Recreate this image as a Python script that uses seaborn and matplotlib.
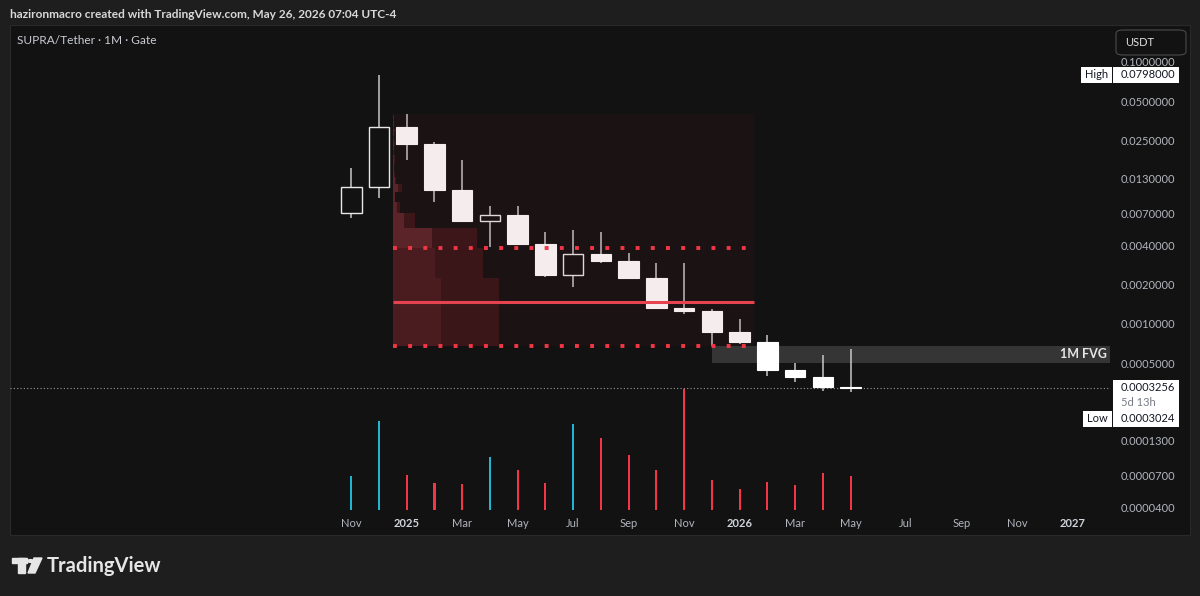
import numpy as np
import pandas as pd
import matplotlib
matplotlib.use('Agg')
import matplotlib.pyplot as plt
from matplotlib.patches import Rectangle, Polygon, Circle, FancyBboxPatch
from matplotlib.ticker import NullLocator
import seaborn as sns

# monthly candles SUPRA/USDT, Nov 2024 .. May 2026
months = ['2024-11', '2024-12', '2025-01', '2025-02', '2025-03', '2025-04', '2025-05',
          '2025-06', '2025-07', '2025-08', '2025-09', '2025-10', '2025-11', '2025-12',
          '2026-01', '2026-02', '2026-03', '2026-04', '2026-05']
opens = [0.0070, 0.0111, 0.0319, 0.0237, 0.0105, 0.0061, 0.0068, 0.0041, 0.00237, 0.0034,
         0.0030, 0.00224, 0.00133, 0.00126, 0.00087, 0.00073, 0.000446, 0.000394, 0.00033]
highs = [0.0155, 0.0798, 0.0400, 0.0245, 0.0179, 0.0079, 0.0079, 0.0050, 0.0052, 0.0050,
         0.0035, 0.0029, 0.0029, 0.00130, 0.0011, 0.00082, 0.000505, 0.00058, 0.00064]
lows = [0.0064, 0.0092, 0.0179, 0.0086, 0.0060, 0.0039, 0.0041, 0.0023, 0.0019, 0.0029,
        0.0022, 0.0013, 0.00120, 0.00068, 0.00070, 0.00040, 0.000363, 0.000306, 0.0003024]
closes = [0.0111, 0.0319, 0.0237, 0.0105, 0.0061, 0.0068, 0.0041, 0.00237, 0.0034, 0.0030,
          0.00224, 0.00133, 0.00126, 0.00087, 0.00073, 0.000446, 0.000394, 0.00033, 0.0003256]
volumes = [34, 89, 35, 27, 26, 53, 40, 27, 86, 72, 55, 40, 121, 30, 21, 28, 25, 37, 34]

# fixed range volume profile (Jan 2025 .. Jan 2026), 25 rows
prof_first, prof_last = 2, 14
prof_up = [48, 42, 39, 11, 4, 2, 5, 2, 1, 1, 1, 1, 0, 1, 1, 1, 0, 1, 1, 0, 1, 1, 0, 1, 0]
prof_down = [58, 48, 45, 11, 3, 0, 4, 1, 1, 0, 1, 1, 1, 0, 1, 0, 1, 0, 1, 1, 0, 0, 1, 0, 1]
poc_price = 0.00147
va_high, va_low = 0.00383, 0.00068

# 1M fair value gap
fvg_start = 13
fvg_low, fvg_high = 0.000504, 0.00068

price_ticks = [0.1, 0.05, 0.025, 0.013, 0.007, 0.004, 0.002, 0.001, 0.0005,
               0.00013, 0.00007, 0.00004]
month_ticks = [0, 2, 4, 6, 8, 10, 12, 14, 16, 18, 20, 22, 24, 26]
month_labels = ['Nov', '2025', 'Mar', 'May', 'Jul', 'Sep', 'Nov', '2026',
                'Mar', 'May', 'Jul', 'Sep', 'Nov', '2027']

bg_outer = '#1e1e1e'
panel = '#121212'
red = '#f23645'
cyan = '#22b5d2'

sns.set_theme(style='dark')
plt.rcParams['font.family'] = ['Lato', 'DejaVu Sans']

W, H = 1200, 596
fig = plt.figure(figsize=(12, 5.96), dpi=100, facecolor=bg_outer)


def fx(px):
    return px / W


def fy(py):
    return 1 - py / H


fig.add_artist(Rectangle((fx(10), fy(535)), 1180 / W, 510 / H, transform=fig.transFigure,
                         facecolor=panel, edgecolor='#2a2a2a', lw=0.8, zorder=0))

rect = [fx(10), fy(512), 1100 / W, 487 / H]
axv = fig.add_axes(rect)
ax = fig.add_axes(rect, sharex=axv)
for a in (ax, axv):
    a.patch.set_visible(False)
    for s in a.spines.values():
        s.set_visible(False)
    a.grid(False)

x = np.arange(len(months))
xlim = (-12.3, 27.35)

# volume overlay
vol_df = pd.DataFrame({'x': x, 'volume': volumes,
                       'dir': ['up' if c >= o else 'down' for o, c in zip(opens, closes)]})
sns.barplot(data=vol_df, x='x', y='volume', hue='dir', palette={'up': cyan, 'down': red},
            native_scale=True, orient='x', width=0.075, dodge=False, saturation=1,
            legend=False, linewidth=0, edgecolor='none', ax=axv)
axv.set_ylim(-2, 485)
axv.axis('off')

# candles
ax.set_yscale('log')
ax.vlines(x, lows, highs, color='#c8c8c8', lw=1.1, zorder=2)
o = np.array(opens)
c = np.array(closes)
up = c >= o
ax.bar(x[up], (c - o)[up], bottom=o[up], width=0.74, facecolor=panel,
       edgecolor='#e8e8e8', lw=1.0, zorder=2.2)
ax.bar(x[~up], (o - c)[~up], bottom=c[~up], width=0.74, facecolor='#ffffff',
       edgecolor='#ffffff', lw=0.8, zorder=2.2)

# volume profile box
p_lo = min(lows[prof_first:prof_last + 1])
p_hi = max(highs[prof_first:prof_last + 1])
bx0, bx1 = prof_first - 0.5, prof_last + 0.5
ax.add_patch(Rectangle((bx0, p_lo), bx1 - bx0, p_hi - p_lo, facecolor=(0.55, 0.1, 0.12, 0.08),
                       edgecolor='none', zorder=3))
edges = np.linspace(p_lo, p_hi, len(prof_up) + 1)
tot = np.array(prof_up) + np.array(prof_down)
scale = 0.295 * (bx1 - bx0) / tot.max()
up_col = np.where(edges[1:] <= va_high * 1.01, '#4a1c20', '#5a2428')
dn_col = np.where(edges[1:] <= va_high * 1.01, '#3b1619', '#3d161a')
ax.barh(edges[:-1], np.array(prof_up) * scale, height=np.diff(edges), left=bx0, align='edge',
        color=up_col, edgecolor='none', zorder=4)
ax.barh(edges[:-1], np.array(prof_down) * scale, height=np.diff(edges),
        left=bx0 + np.array(prof_up) * scale, align='edge', color=dn_col, edgecolor='none', zorder=4)
ax.hlines(poc_price, bx0, bx1, color='#e5434f', lw=2.2, zorder=5)
ax.hlines([va_high, va_low], bx0, bx1, color=red, lw=2.8, linestyles=[(0, (1, 2.9))],
          capstyle='butt', zorder=5)

# FVG zone
ax.add_patch(Rectangle((fvg_start, fvg_low), xlim[1] - fvg_start, fvg_high - fvg_low,
                       facecolor=(1, 1, 1, 0.15), edgecolor='none', zorder=1.5))
ax.text(xlim[1] - 0.12, np.sqrt(fvg_low * fvg_high), '1M FVG', ha='right', va='center',
        color='#e6e6e6', fontsize=9, fontweight='bold', zorder=6)

# last price line
ax.axhline(closes[-1], color='#9a9a9a', lw=0.8, ls=(0, (1, 2)), zorder=1.8)

ax.set_xlim(*xlim)
ax.set_ylim(3.67e-5, 0.1914)
ax.yaxis.tick_right()
ax.set_yticks(price_ticks)
ax.set_yticklabels([f'{t:.7f}' for t in price_ticks])
ax.yaxis.set_minor_locator(NullLocator())
ax.tick_params(axis='y', length=0, pad=8, labelsize=8, labelcolor='#b2b5be')
ax.set_xticks(month_ticks)
ax.set_xticklabels(month_labels)
ax.tick_params(axis='x', length=0, pad=4, labelsize=8, labelcolor='#b2b5be')
for lab in ax.get_xticklabels():
    if lab.get_text().isdigit():
        lab.set_fontweight('bold')
        lab.set_color('#d1d4dc')
ax.set_xlabel('')
ax.set_ylabel('')


def ypx(price):
    return H - ax.transData.transform((0, price))[1]


# price scale labels
def box(x0, y0, x1, y1, fc, ec='none', lw=0, z=10):
    fig.add_artist(Rectangle((fx(x0), fy(y1)), (x1 - x0) / W, (y1 - y0) / H,
                             transform=fig.transFigure, facecolor=fc, edgecolor=ec, lw=lw, zorder=z))


yh = ypx(max(highs))
box(1081, yh - 8, 1112, yh + 8, '#ffffff')
box(1113, yh - 8, 1179, yh + 8, '#ffffff')
fig.text(fx(1085), fy(yh), 'High', ha='left', va='center', fontsize=8, color='#131722', zorder=11)
fig.text(fx(1121), fy(yh), f'{max(highs):.7f}', ha='left', va='center', fontsize=8,
         color='#131722', zorder=11)

yc = ypx(closes[-1])
box(1113, yc - 8, 1179, yc + 39, '#ffffff')
box(1083, yc + 23, 1112, yc + 39, '#ffffff')
fig.text(fx(1121), fy(yc), f'{closes[-1]:.7f}', ha='left', va='center', fontsize=8,
         color='#131722', zorder=11)
fig.text(fx(1121), fy(yc + 15), '5d 13h', ha='left', va='center', fontsize=8,
         color='#787b86', zorder=11)
fig.text(fx(1121), fy(yc + 31), f'{min(lows):.7f}', ha='left', va='center', fontsize=8,
         color='#131722', zorder=11)
fig.text(fx(1087), fy(yc + 31), 'Low', ha='left', va='center', fontsize=8,
         color='#131722', zorder=11)

fig.add_artist(FancyBboxPatch((fx(1116), fy(55)), 70 / W, 25 / H, boxstyle='round,pad=0,rounding_size=0.006',
                              transform=fig.transFigure, facecolor=panel, edgecolor='#4a4a4a', lw=0.8, zorder=10))
fig.text(fx(1125), fy(43), 'USDT', ha='left', va='center', fontsize=8, color='#e0e0e0', zorder=11)

# header and title
fig.text(fx(10), fy(14), 'hazironmacro created with TradingView.com, May 26, 2026 07:04 UTC-4',
         ha='left', va='center', fontsize=8.6, fontweight='bold', color='#d9d9d9')
fig.text(fx(17), fy(41), 'SUPRA/Tether · 1M · Gate', ha='left', va='center', fontsize=8.6,
         color='#c8cbd1')

# TradingView logo
logo = '#e6e6e6'
fig.add_artist(Rectangle((fx(12), fy(563)), 15 / W, 5 / H, transform=fig.transFigure, color=logo))
fig.add_artist(Rectangle((fx(18), fy(573)), 7 / W, 15 / H, transform=fig.transFigure, color=logo))
fig.add_artist(Circle((fx(30.5), fy(561)), 2.8 / W, transform=fig.transFigure, color=logo))
fig.add_artist(Polygon([(fx(34), fy(558)), (fx(42), fy(558)), (fx(35), fy(573)), (fx(28), fy(573))],
                       closed=True, transform=fig.transFigure, color=logo))
fig.text(fx(47), fy(566), 'TradingView', ha='left', va='center', fontsize=14.5,
         fontweight='bold', color=logo)

fig.savefig('out.png', dpi=100, facecolor=bg_outer)
